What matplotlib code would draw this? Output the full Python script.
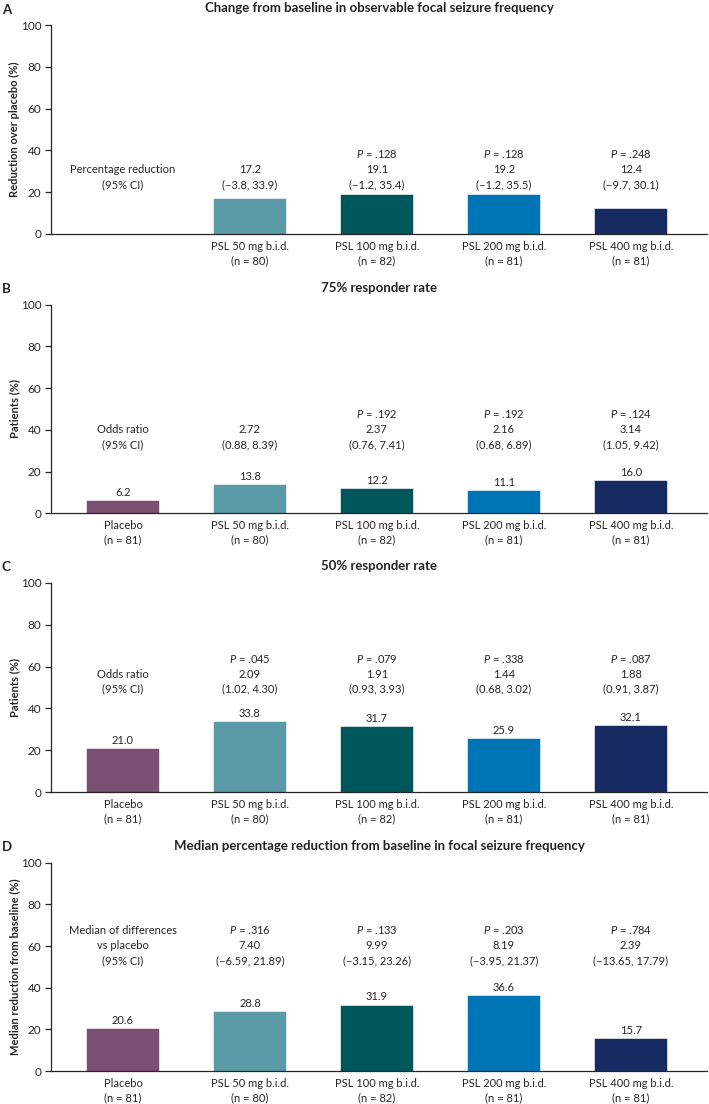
import matplotlib
matplotlib.use('Agg')
import matplotlib.pyplot as plt
import numpy as np

plt.rcParams['font.family'] = ['Lato', 'DejaVu Sans']
plt.rcParams['mathtext.fontset'] = 'custom'
plt.rcParams['mathtext.rm'] = 'Lato'
plt.rcParams['mathtext.it'] = 'Lato:italic'

# Groups
groups = ['Placebo', 'PSL 50 mg b.i.d.', 'PSL 100 mg b.i.d.', 'PSL 200 mg b.i.d.', 'PSL 400 mg b.i.d.']
n_pts = [81, 80, 82, 81, 81]
colors = ['#7a5075', '#5a9aa6', '#00575b', '#0075b6', '#162b62']

# Panel A: reduction over placebo (no placebo bar)
a_vals = [np.nan, 17.2, 19.1, 19.2, 12.4]
a_est = [None, '17.2', '19.1', '19.2', '12.4']
a_ci = [None, '(\u22123.8, 33.9)', '(\u22121.2, 35.4)', '(\u22121.2, 35.5)', '(\u22129.7, 30.1)']
a_p = [None, None, '.128', '.128', '.248']

# Panel B: 75% responder rate
b_vals = [6.2, 13.8, 12.2, 11.1, 16.0]
b_est = [None, '2.72', '2.37', '2.16', '3.14']
b_ci = [None, '(0.88, 8.39)', '(0.76, 7.41)', '(0.68, 6.89)', '(1.05, 9.42)']
b_p = [None, None, '.192', '.192', '.124']

# Panel C: 50% responder rate
c_vals = [21.0, 33.8, 31.7, 25.9, 32.1]
c_est = [None, '2.09', '1.91', '1.44', '1.88']
c_ci = [None, '(1.02, 4.30)', '(0.93, 3.93)', '(0.68, 3.02)', '(0.91, 3.87)']
c_p = [None, '.045', '.079', '.338', '.087']

# Panel D: median percentage reduction
d_vals = [20.6, 28.8, 31.9, 36.6, 15.7]
d_est = [None, '7.40', '9.99', '8.19', '2.39']
d_ci = [None, '(\u22126.59, 21.89)', '(\u22123.15, 23.26)', '(\u22123.95, 21.37)', '(\u221213.65, 17.79)']
d_p = [None, '.316', '.133', '.203', '.784']

panels = [
    ('A', 'Change from baseline in observable focal seizure frequency', 'Reduction over placebo (%)',
     a_vals, a_est, a_ci, a_p, 'Percentage reduction\n(95% CI)', 23.8, False),
    ('B', '75% responder rate', 'Patients (%)',
     b_vals, b_est, b_ci, b_p, 'Odds ratio\n(95% CI)', 33.2, True),
    ('C', '50% responder rate', 'Patients (%)',
     c_vals, c_est, c_ci, c_p, 'Odds ratio\n(95% CI)', 49.6, True),
    ('D', 'Median percentage reduction from baseline in focal seizure frequency',
     'Median reduction from baseline (%)',
     d_vals, d_est, d_ci, d_p, 'Median of differences\nvs placebo\n(95% CI)', 53.3, True),
]

W, H = 709, 1104
fig = plt.figure(figsize=(W / 100, H / 100), dpi=100)

# axes top/bottom in pixels
boxes = [(25, 234), (304.5, 513.3), (582.7, 792.3), (862.7, 1071)]
x = np.arange(len(groups))
txt_col = '#262626'

for (letter, title, ylab, vals, est, ci, pv, header, ci_y, show_vals), (top, bot) in zip(panels, boxes):
    ax = fig.add_axes([51 / W, 1 - bot / H, (707 - 51) / W, (bot - top) / H])
    ax.bar(x, vals, width=0.575, color=colors, edgecolor='white', linewidth=0.4)
    ax.set_xlim(-0.567, 4.6)
    ax.set_ylim(0, 100)
    ax.set_yticks(range(0, 101, 20))
    ax.tick_params(axis='y', labelsize=8.5, length=4, width=0.9, color=txt_col, labelcolor=txt_col, pad=3)
    ax.tick_params(axis='x', length=0, labelsize=8, labelcolor=txt_col, pad=5)
    ax.spines[['top', 'right']].set_visible(False)
    for s in ['left', 'bottom']:
        ax.spines[s].set_color(txt_col)
        ax.spines[s].set_linewidth(0.9)
    ax.set_xticks(x)
    labels = ['%s\n(n = %d)' % (g, n) for g, n in zip(groups, n_pts)]
    if letter == 'A':
        labels[0] = ''
    ax.set_xticklabels(labels, linespacing=1.35)
    ax.set_ylabel(ylab, fontsize=8, fontweight='bold', color=txt_col)
    ax.yaxis.set_label_coords(-31 / (707 - 51), 0.5)
    ax.set_title(title, fontsize=9.5, fontweight='bold', color='#222222', pad=9)
    ax.text(-51 / (707 - 51) + 0.003, 1.0 + 9.5 / (bot - top), letter, transform=ax.transAxes,
            fontsize=9.5, fontweight='bold', color='#222222', va='bottom', ha='left')

    # header text at placebo position
    ax.text(0, ci_y - 3.0, header, ha='center', va='bottom', fontsize=8, color=txt_col, linespacing=1.45)

    for i in range(1, len(groups)):
        lines = []
        if pv[i] is not None:
            lines.append('$\\mathit{P}$ = %s' % pv[i])
        lines.append(est[i])
        lines.append(ci[i])
        ax.text(i, ci_y - 3.0, '\n'.join(lines), ha='center', va='bottom', fontsize=8,
                color=txt_col, linespacing=1.45)

    if show_vals:
        for i, v in enumerate(vals):
            ax.annotate('%.1f' % v, (i, v), xytext=(0, 1.5), textcoords='offset points',
                        ha='center', va='bottom', fontsize=8, color=txt_col)

fig.savefig('out.png', dpi=100)
